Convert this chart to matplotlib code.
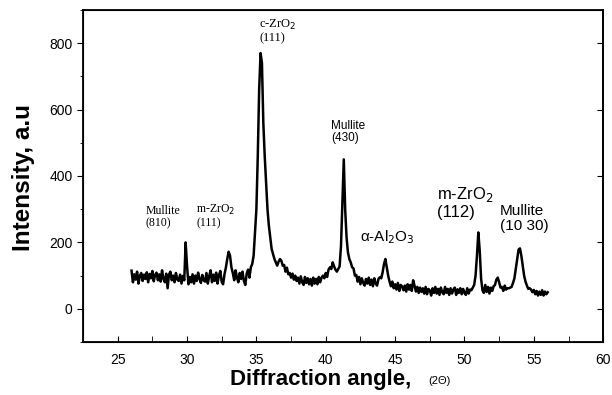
import numpy as np
import matplotlib
matplotlib.use("Agg")
import matplotlib.pyplot as plt
from matplotlib.ticker import MultipleLocator

# 2-theta sampling (0.1 deg steps from 26 to 56)
angle_start, angle_end, n_points = 26.0, 56.0, 301
intensity = [
    115, 80, 104, 88, 112, 76, 100, 108, 84, 103,
    90, 110, 80, 105, 92, 114, 83, 102, 109, 86,
    104, 82, 116, 90, 80, 106, 62, 103, 112, 86,
    100, 80, 108, 88, 84, 103, 76, 99, 86, 200,
    130, 74, 96, 80, 104, 76, 100, 84, 109, 90,
    78, 102, 86, 82, 108, 76, 99, 116, 80, 103,
    84, 109, 76, 101, 114, 81, 74, 104, 124, 150,
    172, 160, 125, 108, 86, 116, 94, 80, 108, 90,
    112, 84, 72, 106, 118, 94, 125, 135, 160, 230,
    300, 460, 660, 770, 740, 560, 460, 380, 300, 250,
    215, 180, 165, 150, 140, 130, 142, 150, 145, 130,
    132, 112, 124, 104, 108, 94, 106, 88, 100, 84,
    94, 76, 98, 80, 72, 96, 78, 92, 74, 90,
    70, 94, 76, 90, 74, 96, 80, 94, 100, 92,
    108, 96, 118, 125, 120, 140, 128, 118, 112, 120,
    128, 190, 320, 450, 300, 215, 170, 150, 140, 125,
    122, 100, 102, 82, 96, 74, 92, 78, 70, 90,
    76, 94, 72, 88, 68, 92, 76, 70, 90, 95,
    92, 110, 135, 150, 125, 100, 82, 68, 82, 62,
    74, 58, 78, 54, 72, 68, 56, 70, 52, 74,
    58, 72, 54, 86, 70, 52, 66, 48, 64, 51,
    62, 46, 66, 44, 60, 56, 40, 62, 48, 66,
    46, 60, 42, 64, 50, 44, 66, 48, 60, 42,
    62, 46, 58, 64, 42, 59, 48, 62, 44, 60,
    48, 42, 62, 46, 58, 56, 64, 72, 100, 160,
    230, 175, 90, 56, 48, 72, 51, 66, 46, 64,
    54, 68, 72, 88, 94, 80, 64, 66, 54, 70,
    58, 62, 62, 64, 66, 78, 92, 120, 150, 178,
    182, 160, 130, 100, 82, 70, 60, 62, 58, 50,
    57, 44, 54, 40, 52, 42, 56, 40, 52, 44,
    50,
]
angles = np.linspace(angle_start, angle_end, n_points)

x_ticks = [25, 30, 35, 40, 45, 50, 55, 60]
y_ticks = [0, 200, 400, 600, 800]

# peak labels: (text, x, y, family, size)
labels = [
    ("Mullite\n(810)", 27.0, 238, "serif", 8.5),
    ("m-ZrO$_2$\n(111)", 30.65, 238, "serif", 8.5),
    ("c-ZrO$_2$\n(111)", 35.2, 795, "serif", 9),
    ("Mullite\n(430)", 40.4, 495, "sans", 8.5),
    ("α-Al$_2$O$_3$", 42.5, 190, "sans", 11),
    ("m-ZrO$_2$\n(112)", 48.0, 268, "sans", 12),
    ("Mullite\n(10 30)", 52.55, 228, "sans", 11),
]

fig = plt.figure(figsize=(6.12, 3.95), dpi=100)
ax = fig.add_axes([0.1356, 0.134, 0.85, 0.841])
ax.plot(angles, intensity, color="black", lw=1.8)

ax.set_xlim(22.5, 60)
ax.set_ylim(-100, 900)
ax.set_xticks(x_ticks)
ax.set_yticks(y_ticks)
ax.xaxis.set_minor_locator(MultipleLocator(2.5))
ax.yaxis.set_minor_locator(MultipleLocator(100))
ax.tick_params(axis="x", which="both", direction="in", length=4, top=False,
               labelsize=10, pad=8)
ax.tick_params(axis="y", which="major", direction="out", length=4, labelsize=10)
ax.tick_params(axis="y", which="minor", direction="out", length=2)
for lab in ax.get_xticklabels() + ax.get_yticklabels():
    lab.set_fontfamily("Liberation Sans")
for s in ax.spines.values():
    s.set_linewidth(1.3)

ax2 = ax.twinx()
ax2.set_ylim(ax.get_ylim())
ax2.set_yticks(y_ticks)
ax2.tick_params(axis="y", direction="in", length=4, labelright=False)
ax2.spines["right"].set_linewidth(1.3)

for text, x, y, fam, size in labels:
    family = "Liberation Serif" if fam == "serif" else "Liberation Sans"
    ax.text(x, y, text, family=family, fontsize=size, ha="left", va="bottom",
            linespacing=1.1)

fig.text(0.038, 0.55, "Intensity, a.u", rotation=90, fontsize=17.5,
         fontweight="bold", family="Liberation Sans", ha="center", va="center")
fig.text(0.375, 0.04, "Diffraction angle,", fontsize=16, fontweight="bold",
         family="Liberation Sans", ha="left", va="center")
fig.text(0.70, 0.035, "(2Θ)", fontsize=8, family="Liberation Sans",
         ha="left", va="center")

fig.savefig("out.png", dpi=100)
